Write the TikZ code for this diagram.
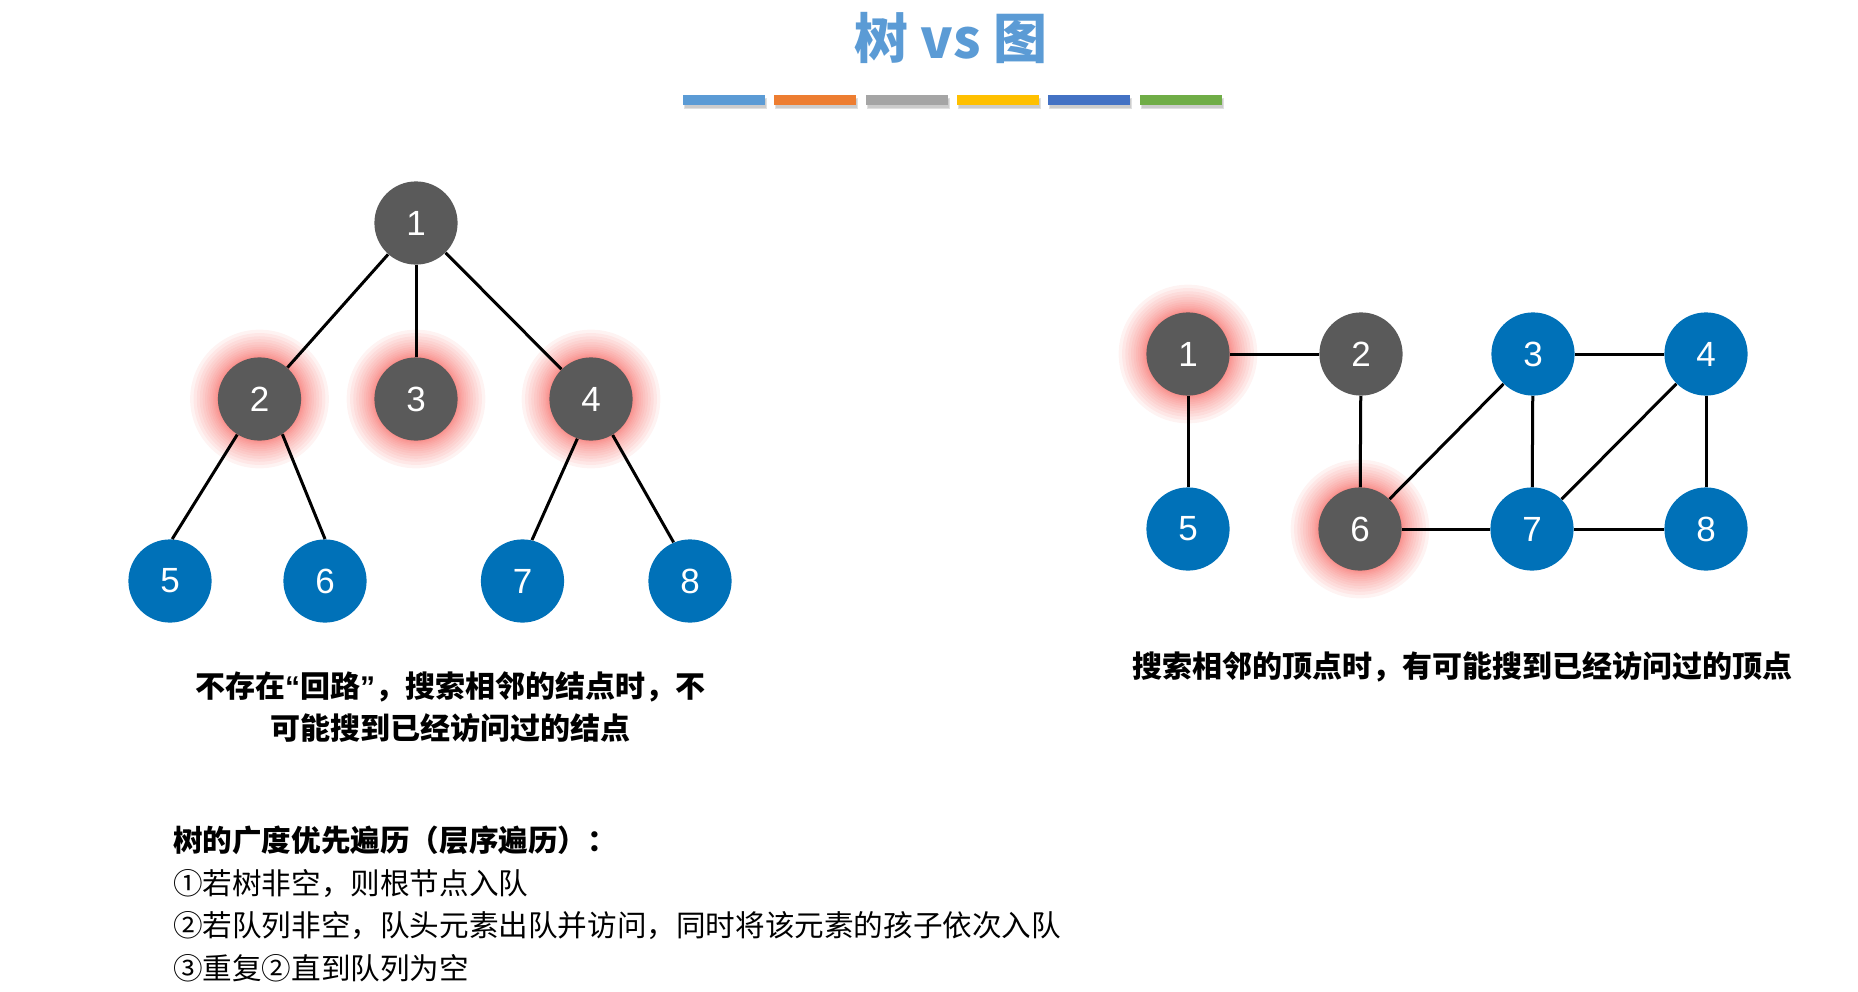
\documentclass[tikz,border=0pt]{standalone}
\usepackage{fontspec}
\setmainfont{Liberation Sans}
\newfontfamily\cjk{Noto Sans CJK SC}
\usepackage{tikz}
\usetikzlibrary{positioning, backgrounds}

\definecolor{titleblue}{HTML}{5B9BD5}
\definecolor{barA}{HTML}{5B9BD5}
\definecolor{barB}{HTML}{ED7D31}
\definecolor{barC}{HTML}{A5A5A5}
\definecolor{barD}{HTML}{FFC000}
\definecolor{barE}{HTML}{4472C4}
\definecolor{barF}{HTML}{70AD47}
\definecolor{nodegray}{HTML}{5A5A5A}
\definecolor{nodeblue}{HTML}{0071B8}
\definecolor{glowred}{HTML}{F5524C}

\begin{document}
\begin{tikzpicture}[
    x=0.5pt, y=-0.5pt,
    vnode/.style={circle, minimum size=41.6pt, inner sep=0pt, text=white,
                  font=\fontsize{17.5}{17.5}\selectfont},
    graynode/.style={vnode, fill=nodegray},
    bluenode/.style={vnode, fill=nodeblue},
    link/.style={line width=1.5pt, draw=black},
    caption/.style={font=\cjk\bfseries\fontsize{15}{21.4}\selectfont, align=center},
    steps/.style={font=\cjk\fontsize{14.8}{21.2}\selectfont, align=left, anchor=west}
]
\useasboundingbox (0,0) rectangle (1858,991);

%% ===== TITLE =====
\node[text=titleblue, font=\cjk\bfseries\fontsize{27}{27}\selectfont] (title) at (951,38) {树 vs 图};
\foreach \c [count=\i from 0] in {barA, barB, barC, barD, barE, barF} {
  \fill[black!12] ({684+91.3*\i},98) rectangle ({767+91.3*\i},109);
  \fill[black!20] ({685+91.3*\i},99) rectangle ({766+91.3*\i},107.5);
  \fill[\c] ({683+91.3*\i},95) rectangle ({765+91.3*\i},104.5);
}

%% ===== TREE =====
\node[graynode] (t1) at (416,223) {1};
\node[graynode] (t2) at (259.5,399) {2};
\node[graynode] (t3) at (416,399) {3};
\node[graynode] (t4) at (591,399) {4};
\node[bluenode] (t5) at (170,581) {5};
\node[bluenode] (t6) at (325,581) {6};
\node[bluenode] (t7) at (522.5,581) {7};
\node[bluenode] (t8) at (690,581) {8};

\draw[link] (t1) -- (t2);
\draw[link] (t1) -- (t3);
\draw[link] (t1) -- (t4);
\draw[link] (t2.238) -- (t5.87);
\draw[link] (t2.303) -- (t6.90);
\draw[link] (t4.251) -- (t7.77);
\draw[link] (t4.301) -- (t8.113);

\node[caption] (treecap) at (450,707) {不存在{\normalfont\bfseries “}回路{\normalfont\bfseries ”}，搜索相邻的结点时，不\\可能搜到已经访问过的结点};

%% ===== GRAPH =====
\node[graynode] (g1) at (1188,354) {1};
\node[graynode] (g2) at (1361,354) {2};
\node[bluenode] (g3) at (1533,354) {3};
\node[bluenode] (g4) at (1706,354) {4};
\node[bluenode] (g5) at (1188,529) {5};
\node[graynode] (g6) at (1360,529) {6};
\node[bluenode] (g7) at (1532,529) {7};
\node[bluenode] (g8) at (1706,529) {8};

\draw[link] (g1) -- (g2);
\draw[link] (g1) -- (g5);
\draw[link] (g2) -- (g6);
\draw[link] (g3) -- (g4);
\draw[link] (g3) -- (g6);
\draw[link] (g3) -- (g7);
\draw[link] (g4) -- (g7);
\draw[link] (g4) -- (g8);
\draw[link] (g6) -- (g7);
\draw[link] (g7) -- (g8);

\node[caption] (graphcap) at (1462,667) {搜索相邻的顶点时，有可能搜到已经访问过的顶点};

%% ===== BFS STEPS =====
\node[steps] (bfs) at (166,904) {{\bfseries 树的广度优先遍历（层序遍历）：}\\①若树非空，则根节点入队\\②若队列非空，队头元素出队并访问，同时将该元素的孩子依次入队\\③重复②直到队列为空};

%% ===== GLOW (visited nodes) =====
\begin{scope}[on background layer]
  \foreach \n in {t2, t3, t4, g1, g6}
    \foreach \k in {1,...,16}
      \fill[glowred, opacity=0.07] (\n) circle ({20.6pt+0.055pt*\k*\k});
\end{scope}

\end{tikzpicture}
\end{document}
